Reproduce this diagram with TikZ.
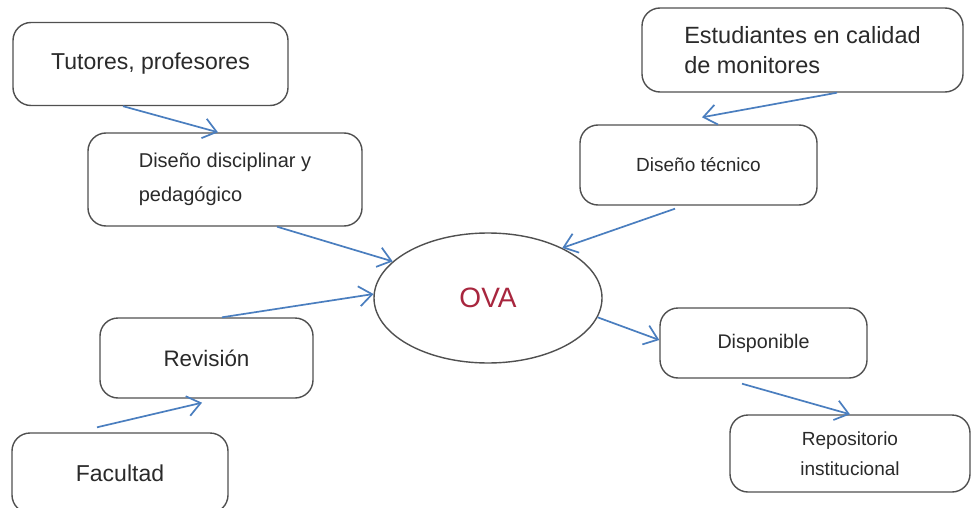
\documentclass[tikz,border=0pt]{standalone}
\usepackage{fontspec}
\setmainfont{Liberation Sans}
\usetikzlibrary{arrows.meta,shapes.geometric}
\definecolor{arrowblue}{HTML}{4A7EBF}
\definecolor{boxgray}{HTML}{505050}
\definecolor{txtgray}{HTML}{2A2A2A}
\definecolor{ovared}{HTML}{A8263E}
\tikzset{
  rbox/.style={draw=boxgray, line width=1.4pt, rounded corners=18pt, fill=white,
    text=txtgray, align=left, inner sep=0pt},
  conn/.style={draw=arrowblue, line width=1.7pt,
    -{Straight Barb[length=13pt,width=20pt,line width=1.7pt]}}
}
\begin{document}
\begin{tikzpicture}[x=1pt,y=-1pt]
\useasboundingbox[fill=white] (0,0) rectangle (971,508);
\node[rbox, minimum width=275pt, minimum height=83pt, font=\fontsize{23}{28}\selectfont] (tut) at (150.5,64) {Tutores, profesores};
\node[rbox, minimum width=274pt, minimum height=93pt, font=\fontsize{20}{34}\selectfont] (dis) at (225,179.5) {Diseño disciplinar y\\pedagógico};
\node[rbox, minimum width=321pt, minimum height=84pt, font=\fontsize{23.5}{30}\selectfont] (est) at (802.5,50) {Estudiantes en calidad\\de monitores};
\node[rbox, minimum width=237pt, minimum height=80pt, font=\fontsize{19}{24}\selectfont] (tec) at (698.5,165) {Diseño técnico};
\node[rbox, minimum width=213pt, minimum height=80pt, font=\fontsize{22.4}{28}\selectfont] (rev) at (206.5,358) {Revisión};
\node[rbox, minimum width=216pt, minimum height=80pt, font=\fontsize{23}{28}\selectfont] (fac) at (120,473) {Facultad};
\node[rbox, minimum width=207pt, minimum height=70pt, font=\fontsize{19.7}{24}\selectfont] (disp) at (763.5,343) {Disponible};
\node[rbox, minimum width=240pt, minimum height=77pt, align=center, font=\fontsize{19}{30}\selectfont] (repo) at (850,453.5) {Repositorio\\institucional};
\node[ellipse, draw=boxgray, line width=1.4pt, fill=white, minimum width=228pt, minimum height=130pt, inner sep=0pt,
  text=ovared, font=\fontsize{28}{32}\selectfont] (ova) at (488,298) {OVA};
\draw[conn] ([xshift=-27.5pt]tut.south) -- ([xshift=-7pt]dis.north);
\draw[conn] ([xshift=52pt]dis.south) -- (ova.159);
\draw[conn] ([xshift=34.5pt]est.south) -- ([xshift=3.5pt,yshift=7pt]tec.north);
\draw[conn] ([xshift=-23.5pt,yshift=-3pt]tec.south) -- (ova.34);
\draw[conn] ([xshift=15.5pt]rev.north) -- (ova.178);
\draw[conn] ([xshift=-23pt,yshift=5pt]fac.north) -- ([xshift=-4.5pt,yshift=-4pt]rev.south);
\draw[conn] (ova.-10) -- ([yshift=3pt]disp.west);
\draw[conn] ([xshift=-21.5pt,yshift=-5pt]disp.south) -- (repo.north);
\end{tikzpicture}
\end{document}
